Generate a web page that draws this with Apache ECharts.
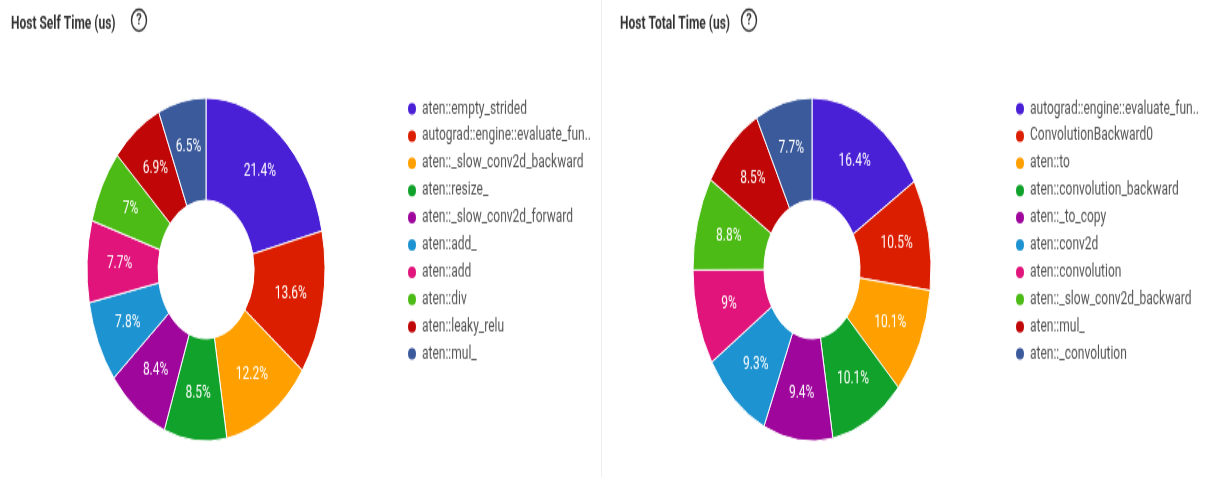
<!DOCTYPE html>
<html>
<head>
<meta charset="utf-8">
<script src="https://cdn.jsdelivr.net/npm/echarts@6/dist/echarts.min.js"></script>
<style>
html,body{margin:0;padding:0;background:#fff;overflow:hidden;}
#wrap{width:1218px;height:477px;overflow:hidden;}
#chart{width:1218px;height:331px;transform:scaleY(1.441);transform-origin:0 0;}
</style>
</head>
<body>
<div id="wrap"><div id="chart"></div></div>
<script>
const selfTitle = 'Host Self Time (us)';
const totalTitle = 'Host Total Time (us)';
const selfNames = ['aten::empty_strided','autograd::engine::evaluate_fun..','aten::_slow_conv2d_backward','aten::resize_','aten::_slow_conv2d_forward','aten::add_','aten::add','aten::div','aten::leaky_relu','aten::mul_'];
const selfValues = [21.4,13.6,12.2,8.5,8.4,7.8,7.7,7.0,6.9,6.5];
const totalNames = ['autograd::engine::evaluate_fun..','ConvolutionBackward0','aten::to','aten::convolution_backward','aten::_to_copy','aten::conv2d','aten::convolution','aten::_slow_conv2d_backward','aten::mul_','aten::_convolution'];
const totalValues = [16.4,10.5,10.1,10.1,9.4,9.3,9.0,8.8,8.5,7.7];
const palette = ['#4a20d6','#dc1e00','#ffa000','#10a22a','#9f069c','#1e93d1','#e0147a','#4dbb16','#c00606','#3b5a9c'];

const chart = echarts.init(document.getElementById('chart'), null, {renderer:'canvas'});
function pieSeries(names, values, cx){
  return {
    type:'pie',
    center:[cx,187],
    radius:[48,119],
    startAngle:90,
    clockwise:true,
    avoidLabelOverlap:false,
    animation:false,
    itemStyle:{borderColor:'#fff',borderWidth:1},
    label:{show:true,position:'inside',color:'#fff',fontSize:12,fontFamily:'Roboto',
      formatter:p=>p.value+'%'},
    labelLine:{show:false},
    emphasis:{disabled:true},
    data:names.map((n,i)=>({name:n,value:values[i],itemStyle:{color:palette[i]}}))
  };
}
function legend(names,left){
  return {
    data:names.map((n,i)=>({name:n,itemStyle:{color:palette[i]}})),
    orient:'vertical', left:left, top:63.5,
    icon:'circle', itemWidth:10, itemHeight:10, itemGap:4.9,
    textStyle:{fontFamily:'Roboto',fontSize:12,color:'#555',lineHeight:14},
    selectedMode:false
  };
}
function helpIcon(x){
  return [
    {type:'circle',shape:{cx:x,cy:14,r:7.5},style:{fill:'none',stroke:'#333',lineWidth:1.4}},
    {type:'text',x:x,y:14,style:{text:'?',fill:'#333',font:'bold 11px Roboto',align:'center',verticalAlign:'middle'}}
  ];
}
chart.setOption({
  animation:false,
  color:palette,
  title:[
    {text:selfTitle,left:6,top:6,textStyle:{fontFamily:'Roboto',fontSize:12,fontWeight:'bold',color:'#333'}},
    {text:totalTitle,left:615,top:6,textStyle:{fontFamily:'Roboto',fontSize:12,fontWeight:'bold',color:'#333'}}
  ],
  legend:[legend(selfNames,401),legend(totalNames,1009)],
  graphic:[
    {type:'line',shape:{x1:601.5,y1:0,x2:601.5,y2:331},style:{stroke:'#eeeeee',lineWidth:1}},
    ...helpIcon(139),...helpIcon(749)
  ],
  series:[pieSeries(selfNames,selfValues,206),pieSeries(totalNames,totalValues,812)]
});
</script>
</body>
</html>
